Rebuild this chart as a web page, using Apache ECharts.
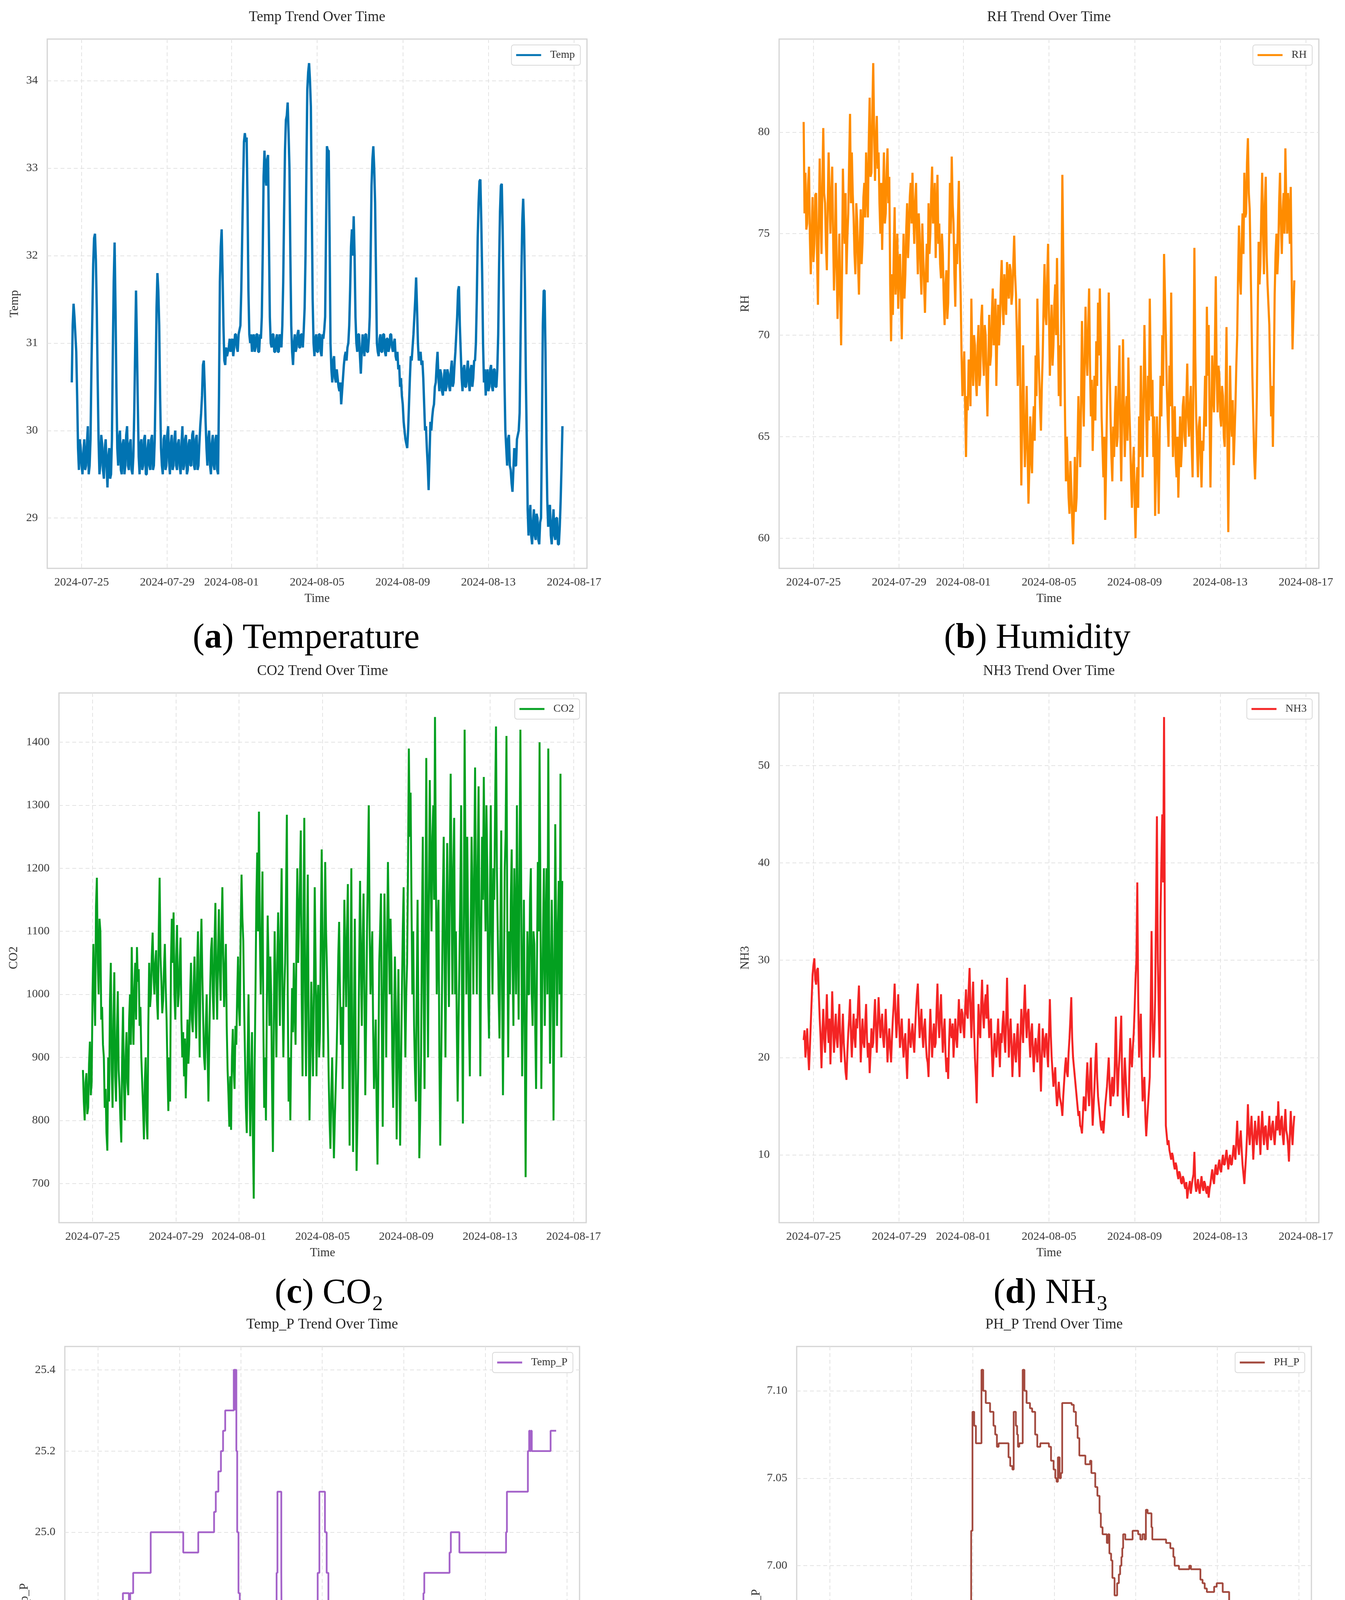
<!DOCTYPE html>
<html><head><meta charset="utf-8">
<script src="https://cdn.jsdelivr.net/npm/echarts@6/dist/echarts.min.js"></script>
<style>html,body{margin:0;padding:0;background:#fff}#c{width:3444px;height:5015px}</style>
</head><body><div id="c"></div>
<script>
// ---------- DATA ----------
const xTickLabels = ['2024-07-25','2024-07-29','2024-08-01','2024-08-05','2024-08-09','2024-08-13','2024-08-17'];
const sampleStart = '2024-07-24T13:00:00';
const sampleStepHours = 1;

const tempValues = [
30.55,31.2,31.45,31.3,31.1,30.9,30.4,29.8,29.55,29.9,29.8,29.6,29.5,29.75,29.9,29.55,29.6,29.85,30.05,29.5,29.6,29.9,30.7,31.3,
31.9,32.2,32.25,31.95,31.4,30.6,29.9,29.5,29.6,29.95,29.85,29.55,29.45,29.8,29.9,29.6,29.35,29.7,29.8,29.45,29.5,29.9,30.9,31.7,
32.15,31.4,30.5,29.8,29.6,29.9,30.0,29.55,29.5,29.85,29.9,29.5,29.6,29.95,30.05,29.6,29.55,29.85,29.9,29.55,29.5,29.7,30.2,30.9,
31.6,31.0,30.3,29.7,29.5,29.85,29.9,29.55,29.6,29.9,29.95,29.5,29.5,29.8,29.9,29.6,29.55,29.9,29.95,29.55,29.6,29.9,30.6,31.4,
31.8,31.6,31.2,30.4,29.8,29.6,29.5,29.9,29.95,29.55,29.6,29.95,30.05,29.65,29.5,29.85,29.95,29.55,29.6,29.9,30.0,29.6,29.55,29.85,
29.9,29.6,29.5,29.85,30.05,29.55,29.6,29.9,29.95,29.5,29.55,29.85,29.9,29.6,29.6,29.95,30.0,29.6,29.55,29.9,29.95,29.55,29.6,29.85,
30.05,30.2,30.4,30.75,30.8,30.5,30.1,29.8,29.6,29.9,30.0,29.6,29.5,29.85,29.95,29.6,29.55,29.9,29.95,29.55,29.5,30.4,31.7,32.1,
32.3,31.8,31.2,30.8,30.75,30.95,30.85,30.9,30.95,31.05,30.9,31.0,31.05,30.85,30.95,31.1,31.1,30.95,30.9,31.1,31.15,31.2,31.6,32.2,
32.8,33.3,33.4,33.3,33.35,32.6,31.6,31.1,31.0,31.1,30.9,31.05,31.1,30.9,30.95,31.1,31.1,30.9,30.9,31.1,31.05,31.3,32.0,32.9,
33.2,32.9,32.8,33.1,33.15,32.2,31.3,31.0,30.95,31.1,31.1,30.9,30.9,31.05,31.1,30.9,30.9,31.1,31.05,30.95,31.2,31.7,32.5,33.2,
33.55,33.6,33.75,33.4,33.0,32.0,31.2,30.9,30.75,31.0,31.1,30.9,30.95,31.1,31.15,30.95,30.95,31.1,31.1,30.95,31.15,31.4,32.0,33.0,
33.9,34.1,34.2,34.0,33.7,32.6,31.5,31.0,30.85,31.05,31.1,30.9,30.9,31.1,31.1,30.9,30.85,31.1,31.05,31.15,31.3,32.3,33.25,33.2,
33.2,32.2,31.0,30.7,30.55,30.8,30.85,30.6,30.55,30.7,30.6,30.5,30.45,30.55,30.3,30.45,30.6,30.75,30.85,30.9,30.8,30.95,31.0,31.2,
31.6,32.1,32.3,32.0,32.45,32.0,31.3,31.0,30.9,31.1,31.1,30.85,30.65,30.9,31.1,30.95,30.85,31.1,31.1,30.9,30.9,31.05,31.3,32.0,
32.8,33.1,33.25,33.0,32.6,31.8,31.0,30.9,30.85,31.05,31.1,30.9,30.9,31.1,31.1,30.9,30.85,31.05,31.05,30.9,30.95,31.1,31.1,30.95,
30.9,31.0,31.05,30.85,30.8,30.9,30.7,30.75,30.5,30.6,30.4,30.3,30.1,30.0,29.9,29.85,29.8,30.0,30.3,30.6,30.85,30.8,30.95,31.1,
31.3,31.5,31.75,31.4,31.0,30.8,30.85,30.9,30.75,30.8,30.6,30.3,30.0,30.05,29.8,29.6,29.32,29.7,30.1,30.0,30.15,30.25,30.3,30.5,
30.55,30.75,30.9,30.6,30.45,30.7,30.65,30.45,30.4,30.6,30.7,30.45,30.5,30.7,30.65,30.5,30.45,30.7,30.8,30.5,30.55,30.75,30.9,31.1,
31.3,31.6,31.65,31.2,30.9,30.6,30.45,30.7,30.75,30.5,30.5,30.7,30.8,30.55,30.45,30.7,30.75,30.5,30.6,30.8,30.8,31.0,31.5,32.2,
32.6,32.85,32.87,32.4,31.8,31.0,30.55,30.7,30.4,30.6,30.7,30.45,30.5,30.7,30.75,30.5,30.45,30.7,30.7,30.5,30.5,30.7,31.1,31.9,
32.5,32.8,32.82,32.3,31.5,30.6,30.0,29.8,29.6,29.9,29.95,29.6,29.55,29.4,29.3,29.55,29.8,29.6,29.6,29.9,29.95,30.0,30.2,31.0,
31.8,32.4,32.65,32.3,31.6,30.6,29.9,29.1,28.8,29.0,29.15,28.8,28.7,28.95,29.1,28.8,28.75,29.05,29.0,28.75,28.7,28.95,29.0,30.0,
31.2,31.6,31.6,30.9,29.85,29.2,28.9,29.1,29.15,28.8,28.7,28.95,29.1,28.8,28.75,29.0,29.0,28.7,28.7,28.9,29.2,29.6,30.05];

const rhValues = [
80.5,76.0,78.0,75.2,75.5,77.4,78.3,74.8,73.0,75.0,76.8,73.6,74.5,76.9,77.0,74.0,71.5,75.5,78.7,76.0,74.0,77.5,80.2,77.0,
76.5,74.5,73.2,76.5,79.0,76.8,75.0,77.0,78.3,75.0,72.2,74.0,77.5,73.5,70.8,72.8,75.0,72.0,69.5,73.0,78.2,76.0,74.5,77.0,
73.0,74.8,76.0,78.5,80.9,76.5,79.0,77.0,75.8,74.0,73.0,76.5,75.6,73.5,72.0,74.8,76.2,73.5,74.6,76.8,77.5,75.8,79.0,77.2,
75.8,79.5,81.7,77.8,78.0,81.0,83.4,80.0,77.6,79.5,80.8,78.2,79.0,76.5,75.0,77.5,74.2,76.8,79.0,75.5,76.0,78.0,79.2,76.5,
77.8,72.5,69.7,73.0,71.0,74.0,76.3,72.0,73.0,75.0,71.3,73.5,74.0,72.0,69.8,72.8,75.0,71.8,73.0,75.2,76.5,73.8,75.0,76.8,
77.5,75.5,78.0,76.0,74.5,76.5,77.5,74.8,73.0,76.0,75.0,73.2,72.0,75.5,74.0,72.5,71.1,73.0,74.5,72.6,76.5,74.0,75.0,77.0,
78.3,75.5,76.0,77.5,73.8,75.8,77.9,74.5,75.5,73.5,72.8,75.0,74.0,71.8,70.5,72.5,73.2,70.8,71.6,74.5,77.5,75.0,78.8,76.5,
75.5,73.0,71.4,74.5,73.5,75.8,77.6,74.0,72.0,69.0,67.0,68.0,69.2,66.5,64.0,67.0,66.3,68.8,68.5,66.5,71.8,69.0,67.5,70.0,
69.5,67.8,67.0,69.5,70.5,67.5,68.0,70.8,71.5,69.0,68.0,70.5,70.0,67.8,66.0,68.5,71.0,68.5,69.0,71.0,72.3,69.5,70.0,71.8,
67.5,70.0,71.5,69.5,70.5,72.5,73.7,71.5,70.5,73.0,72.0,71.0,73.6,72.5,71.8,73.5,73.2,71.5,72.0,73.5,74.9,73.0,72.0,70.0,
67.5,69.5,71.8,66.5,62.6,65.8,69.5,66.0,63.5,65.0,67.5,64.5,61.7,63.5,66.0,64.0,63.2,65.5,66.5,64.8,69.0,67.0,71.8,69.5,
68.0,66.5,65.3,67.5,69.0,71.5,73.5,71.0,70.5,72.8,74.5,71.0,68.0,70.0,71.5,68.5,69.5,71.5,72.5,70.0,73.8,70.5,67.0,69.5,
66.5,72.0,77.9,74.0,70.0,66.0,62.8,65.0,63.5,62.0,61.2,63.8,62.5,61.0,59.7,61.5,64.0,61.3,62.0,64.5,67.0,65.0,63.5,66.8,
70.7,67.5,65.5,68.8,71.4,69.0,68.0,70.5,72.3,68.5,66.0,67.8,64.3,66.5,68.0,65.8,69.7,67.5,71.6,69.0,72.3,69.5,66.0,64.5,
63.0,65.0,60.9,63.5,66.5,69.0,72.1,68.5,66.0,64.0,62.8,65.5,64.0,66.2,67.5,64.5,65.0,67.5,69.5,65.5,62.8,66.0,69.8,66.5,
64.0,66.0,67.0,64.8,68.9,66.5,65.0,63.0,61.5,63.5,64.5,62.0,60.0,62.5,63.5,61.5,66.0,64.0,68.5,66.0,63.0,66.5,70.5,68.0,
66.0,64.0,68.0,65.8,71.8,68.5,66.0,67.8,64.0,66.0,61.1,63.5,66.0,64.0,61.2,64.8,68.0,66.0,70.0,67.5,74.0,72.0,70.0,67.5,
66.0,64.5,68.5,66.5,72.1,67.0,64.0,65.8,66.5,64.0,63.0,65.0,62.0,64.0,66.0,63.5,64.5,66.5,67.0,65.0,64.5,66.8,68.6,66.0,
65.0,66.5,67.5,64.5,63.0,68.0,74.3,69.0,66.0,64.5,63.0,65.5,66.0,64.0,62.5,64.8,64.3,66.0,68.0,65.5,71.4,68.0,70.5,66.0,
62.5,66.0,69.0,67.0,66.2,69.5,72.9,68.0,66.2,68.5,68.0,66.0,65.5,67.5,67.0,65.0,64.5,67.0,70.4,65.0,60.3,64.5,68.5,66.0,
65.0,66.8,63.6,65.0,66.5,68.5,70.0,73.0,75.4,73.0,72.0,74.5,76.0,74.0,78.0,75.8,76.0,78.5,79.7,77.0,76.2,73.5,71.0,68.0,
66.0,64.0,62.9,64.5,67.0,71.0,74.6,72.5,73.5,76.0,78.0,75.0,73.0,76.5,77.8,74.0,72.5,71.5,70.5,68.0,66.0,67.5,64.5,68.0,
72.0,74.0,75.0,73.0,74.0,76.5,78.0,75.5,74.0,76.0,77.0,75.0,79.2,76.5,75.0,77.0,76.0,74.5,77.3,73.0,69.3,71.0,72.7];

const co2Values = [
880,830,800,860,875,810,820,890,925,840,860,1000,1080,1000,950,1140,1185,1050,1000,1120,1100,960,980,920,
900,820,850,780,752,900,830,990,1050,880,820,960,1035,870,830,940,1005,880,850,800,765,900,980,860,
800,900,940,860,840,960,1000,920,1075,980,920,1010,1050,960,1075,1020,1040,950,980,900,860,820,770,860,
900,800,770,950,1050,980,1000,1060,1098,1030,1000,1050,1070,990,960,1100,1185,1060,1020,970,990,1040,1080,1010,
960,880,815,900,830,1050,1120,1050,1130,1000,960,1060,1110,980,1000,1050,1090,960,900,940,870,930,835,900,
960,890,920,1000,1050,960,940,1010,1060,980,930,1040,1100,990,900,1060,1120,1030,960,900,880,950,1000,910,
830,930,1010,1070,1090,1000,960,1080,1145,1030,960,1060,1135,1040,990,1100,1170,1060,980,1030,1080,950,880,840,
790,870,785,900,945,880,850,950,920,1000,1060,980,950,1100,1190,1120,1085,980,900,820,780,900,1000,880,
775,860,940,780,676,880,1005,1150,1225,1100,1290,1100,1000,1080,1195,960,820,900,800,980,1125,1050,950,1060,
1000,850,750,950,1100,1000,900,1050,1130,1050,950,1100,1200,1000,900,1000,1050,1150,1285,1000,830,900,800,920,
1010,940,1050,980,920,1080,1200,1050,1110,1180,1260,1000,870,1100,1280,1000,870,1050,1190,950,800,900,1020,950,
870,1000,1170,1050,870,980,1015,900,940,1100,1230,1080,900,1050,1210,1100,1040,960,870,800,755,840,900,820,
740,800,850,900,970,1060,1115,1000,920,980,850,1000,1150,1060,980,1100,1175,950,760,1000,1200,900,750,950,
1120,900,720,800,900,1050,1180,1050,950,1080,1160,1000,840,960,1100,1200,1300,1100,1000,1050,1100,950,850,900,
960,820,730,880,1050,1100,1160,950,790,1000,1160,1050,900,1080,1210,1100,1000,1120,1050,900,820,950,1060,980,
770,900,1040,900,760,880,1000,1100,1170,1000,900,1000,1050,1200,1390,1250,1320,1150,1000,1100,950,880,830,1000,
1150,950,740,800,900,1100,1250,1000,850,1100,1375,1100,900,1150,1340,1200,1100,1250,1300,1150,1440,1200,1000,1100,
1150,900,760,880,1000,1150,1250,1050,900,1100,1240,1100,980,1200,1350,1150,1000,1200,1280,1000,1100,950,830,950,
1050,1150,1300,1000,795,1100,1420,1200,1000,1250,1100,950,870,1100,1250,1150,1000,1200,1360,1150,1000,1200,1330,1100,
870,1100,1250,1150,1345,1200,1100,1300,1200,1000,930,1150,1300,1100,1000,1200,1150,1300,1425,1200,1100,1000,930,1100,
1260,1000,840,1000,1200,1250,1410,1100,900,1100,1000,1150,1230,1050,950,1200,1100,1000,1300,1100,960,1200,1420,1150,
870,1000,1150,950,710,950,1100,1000,1000,1150,1200,1000,950,1100,1080,950,850,1050,1210,1100,1400,1150,850,1000,
1100,1200,950,1100,1200,1000,1390,1100,890,1000,1150,1050,800,1000,1270,1100,950,1100,1180,1000,1350,900,1180];

const nh3Values = [
21.8,22.8,20.0,21.5,23.0,20.5,18.7,21.0,23.5,26.0,28.5,29.5,30.2,28.0,27.5,29.0,29.2,26.5,24.0,22.0,18.9,22.5,25.0,22.0,
20.5,23.5,26.5,23.0,21.5,24.0,19.3,22.5,26.8,23.5,20.5,22.5,24.5,22.0,21.0,23.5,25.5,22.0,19.5,22.0,24.5,21.5,20.0,18.5,
17.7,20.5,22.5,24.0,26.0,22.5,20.0,22.5,24.5,22.0,21.0,24.0,23.0,25.5,27.4,23.5,19.5,22.0,24.0,21.5,21.0,23.5,25.5,22.0,
20.0,21.5,18.4,20.5,23.0,21.0,21.5,24.0,26.0,23.0,20.5,23.5,26.2,24.0,22.0,23.5,24.5,22.0,21.0,23.0,25.0,22.5,19.5,21.5,
23.0,21.0,19.5,22.0,24.0,25.5,27.6,24.5,22.0,24.0,26.5,23.5,21.0,22.5,24.0,21.5,20.0,21.8,22.5,20.0,17.8,21.0,24.0,22.0,
21.0,22.5,23.5,21.5,20.5,23.0,25.0,26.5,27.6,24.5,22.0,23.5,25.0,22.5,21.0,23.0,24.0,21.5,20.0,19.5,18.0,22.0,25.0,22.5,
20.0,22.0,23.5,21.0,21.5,25.0,27.6,24.0,22.0,24.5,26.5,23.0,20.5,22.5,24.0,20.5,18.5,20.0,17.8,21.5,24.0,22.5,22.0,23.5,
20.0,22.0,24.0,22.0,21.0,23.5,26.0,23.5,22.5,25.0,24.5,23.0,22.0,25.0,27.0,24.5,24.0,27.0,29.2,25.0,22.0,25.5,27.8,23.0,
20.0,18.0,15.3,21.0,25.5,23.0,22.0,25.5,28.0,24.5,23.0,25.5,26.5,24.0,27.5,24.5,22.0,23.5,24.0,20.5,18.0,20.5,22.5,21.0,
20.0,22.0,24.0,21.0,19.0,22.5,21.5,23.5,24.8,22.0,20.5,24.0,28.2,23.5,20.0,22.0,24.0,21.5,18.0,20.5,22.5,20.5,19.5,22.0,
23.5,20.5,18.0,22.0,25.0,23.0,21.5,25.0,27.5,24.0,22.0,24.5,25.0,22.0,20.0,22.5,23.5,20.5,18.5,21.0,22.0,20.5,19.5,22.0,
23.5,19.5,16.5,20.0,23.0,21.5,20.0,22.0,22.5,20.5,19.0,22.5,26.0,22.5,20.0,18.5,17.0,18.0,19.0,16.5,15.0,16.0,17.5,16.0,
15.5,15.0,14.0,16.0,17.5,19.0,20.0,18.5,18.0,20.5,22.0,24.0,26.2,22.0,20.0,19.0,18.0,17.0,16.0,15.0,14.0,14.5,13.0,12.8,
12.2,14.0,16.0,15.0,14.5,17.5,19.5,16.5,15.0,18.0,20.0,16.0,13.0,15.0,17.0,19.5,21.5,18.0,16.0,15.0,14.0,13.0,12.5,13.5,
12.2,13.5,15.0,16.0,17.0,18.5,20.0,17.0,15.0,17.0,18.0,16.0,16.5,20.0,24.2,19.0,16.0,18.5,20.0,22.0,24.3,18.0,14.0,17.0,
20.0,18.0,16.0,15.0,13.8,18.0,22.0,20.0,19.0,21.0,22.5,25.0,28.0,30.0,38.0,26.0,20.0,22.5,24.5,19.0,15.5,17.0,18.0,14.0,
11.9,13.5,15.0,16.5,18.0,25.0,33.0,24.0,20.0,22.0,26.0,35.0,44.8,30.0,25.0,20.0,34.5,40.0,45.0,38.0,55.0,30.0,13.0,12.0,
11.0,11.5,10.5,10.0,9.5,10.2,9.8,9.0,8.5,9.2,8.8,8.0,7.5,8.3,8.0,7.2,7.0,7.8,7.5,6.8,6.5,7.2,5.5,6.3,
6.8,7.3,6.0,6.8,7.5,8.0,10.3,7.0,6.2,6.8,7.5,6.5,6.0,7.0,7.8,6.8,6.3,7.3,7.0,6.3,6.0,6.8,5.6,6.5,
7.0,7.8,8.5,7.5,7.0,8.3,9.0,8.0,8.0,9.0,9.5,8.5,8.2,9.3,10.0,9.0,9.0,9.8,10.5,9.5,8.5,9.5,10.0,9.0,
9.0,10.0,11.0,10.0,9.5,11.5,13.5,11.0,10.0,11.5,12.5,10.5,9.0,8.0,7.0,8.5,10.0,12.0,15.2,12.5,11.0,12.5,14.0,12.0,
9.5,11.5,13.5,12.0,11.0,12.5,14.0,12.0,10.0,12.5,14.5,12.5,11.0,12.8,13.0,11.5,10.5,12.5,14.0,12.0,11.5,13.0,13.5,12.0,
11.0,12.5,14.0,12.5,15.5,13.0,12.0,13.5,14.0,12.0,11.0,13.0,14.7,12.5,12.0,11.0,9.3,12.0,14.5,12.5,11.0,12.8,14.0];

const tempPTimes = ['07-24 12:25','07-24 14:55','07-24 16:26','07-25 00:00','07-25 07:34','07-25 14:37','07-25 16:08','07-25 18:09','07-25 19:09','07-26 00:12','07-26 05:14','07-26 12:19','07-26 13:50','07-26 17:21','07-27 14:00','07-29 04:20','07-29 22:00','07-30 16:38','07-30 18:39','07-30 21:40','07-31 00:42','07-31 03:13','07-31 05:44','07-31 15:50','07-31 17:21','07-31 17:51','07-31 18:52','07-31 19:52','07-31 21:23','07-31 22:54','08-01 00:24','08-01 04:26','08-01 05:27','08-01 16:02','08-01 17:33','08-01 22:35','08-02 03:07','08-02 05:08','08-02 17:14','08-02 18:15','08-02 19:16','08-02 23:48','08-03 00:19','08-03 04:21','08-03 05:21','08-03 15:56','08-03 17:57','08-03 23:30','08-04 04:32','08-04 05:33','08-04 17:08','08-04 18:39','08-04 20:40','08-05 03:13','08-05 05:14','08-05 07:16','08-05 09:17','08-05 10:48','08-05 17:51','08-06 17:02','08-06 23:05','08-07 00:36','08-07 04:38','08-07 17:14','08-08 04:21','08-08 07:52','08-08 09:23','08-09 02:31','08-09 04:02','08-09 11:35','08-09 14:37','08-09 19:09','08-09 23:11','08-10 00:12','08-11 05:57','08-11 07:28','08-11 17:33','08-14 00:30','08-14 01:31','08-15 02:12','08-15 03:43','08-15 04:44','08-15 05:44','08-15 06:46','08-16 04:57','08-16 11:30'];
const tempPValues = [24.25,24.30,24.40,24.45,24.50,24.55,24.60,24.65,24.70,24.75,24.85,24.80,24.85,24.90,25.00,24.95,25.00,25.05,25.10,25.15,25.20,25.25,25.30,25.40,25.30,25.40,25.20,25.00,24.85,24.75,24.70,24.60,24.55,24.60,24.65,24.70,24.60,24.55,24.75,24.90,25.10,24.90,24.70,24.60,24.55,24.60,24.65,24.70,24.60,24.55,24.75,24.90,25.10,25.00,24.90,24.75,24.65,24.60,24.50,24.55,24.60,24.65,24.70,24.75,24.70,24.65,24.55,24.60,24.65,24.70,24.75,24.80,24.85,24.90,24.95,25.00,24.95,25.00,25.10,25.20,25.25,25.20,25.25,25.20,25.25,25.25];

const phPTimes = ['07-24 12:22','07-24 21:28','07-24 23:30','07-25 04:03','07-25 08:05','07-25 18:12','07-26 02:47','07-26 03:48','07-26 12:54','07-26 14:25','07-26 17:57','07-26 23:00','07-27 01:32','07-27 04:04','07-27 08:06','07-27 12:40','07-27 14:10','07-27 15:11','07-27 19:14','07-28 03:19','07-28 05:20','07-28 08:22','07-28 12:25','07-28 17:59','07-28 23:02','07-29 00:02','07-29 01:34','07-29 04:05','07-29 05:36','07-29 09:08','07-29 11:40','07-29 21:47','07-29 22:47','07-30 10:55','07-30 11:56','07-30 13:57','07-30 15:28','07-30 18:00','07-30 20:31','07-30 22:02','07-31 00:04','07-31 01:35','07-31 03:05','07-31 04:06','07-31 05:37','07-31 07:08','07-31 09:09','07-31 11:10','07-31 13:11','07-31 14:43','07-31 16:44','07-31 18:15','07-31 19:16','07-31 20:47','07-31 22:17','07-31 23:49','08-01 01:49','08-01 03:51','08-01 10:25','08-01 12:26','08-01 15:28','08-01 20:32','08-02 00:34','08-02 02:36','08-02 04:36','08-02 06:38','08-02 18:17','08-02 20:18','08-02 22:50','08-03 00:21','08-03 02:53','08-03 04:24','08-03 05:24','08-03 06:56','08-03 10:58','08-03 13:00','08-03 15:31','08-03 19:33','08-03 22:05','08-04 01:37','08-04 04:08','08-04 07:41','08-04 17:48','08-04 20:19','08-04 23:21','08-05 01:23','08-05 02:54','08-05 04:25','08-05 06:26','08-05 07:57','08-05 09:28','08-05 20:35','08-05 23:06','08-06 01:38','08-06 03:39','08-06 05:40','08-06 12:46','08-06 18:20','08-06 19:51','08-07 00:24','08-07 02:55','08-07 05:27','08-07 06:58','08-07 09:00','08-07 14:03','08-07 15:33','08-07 17:04','08-07 19:05','08-07 20:36','08-07 23:08','08-08 02:10','08-08 04:11','08-08 05:42','08-08 07:13','08-08 08:14','08-08 09:15','08-08 11:46','08-08 20:22','08-09 02:56','08-09 05:28','08-09 08:00','08-09 10:31','08-09 12:02','08-09 14:03','08-09 18:36','08-09 19:37','08-10 11:48','08-10 16:51','08-10 20:23','08-10 21:54','08-11 02:57','08-11 15:05','08-11 17:06','08-12 04:14','08-12 06:46','08-12 09:17','08-12 11:49','08-12 20:24','08-12 23:26','08-13 06:30','08-13 14:05','08-13 15:36','08-13 16:37','08-13 17:07','08-13 18:08','08-14 01:43','08-14 03:14','08-14 05:15','08-14 09:18','08-14 10:49','08-14 11:50','08-14 12:51','08-14 14:22','08-14 18:55','08-14 19:56','08-15 01:00','08-15 03:01','08-15 09:35','08-15 15:08','08-15 18:10','08-15 19:41','08-15 20:42','08-15 21:43','08-15 22:44','08-16 00:15','08-16 01:16','08-16 02:17','08-16 03:48','08-16 04:49','08-16 06:20','08-16 07:21','08-16 08:22','08-16 09:53','08-16 11:24'];
const phPValues = [6.930,6.940,6.935,6.930,6.925,6.920,6.930,6.920,6.935,6.930,6.925,6.930,6.935,6.945,6.955,6.950,6.945,6.950,6.955,6.960,6.965,6.970,6.960,6.955,6.950,6.955,6.945,6.950,6.940,6.935,6.930,6.935,6.930,6.920,6.915,6.920,6.915,6.905,6.915,6.900,6.895,6.890,6.885,6.880,6.875,6.870,6.875,6.870,6.875,6.870,6.885,6.870,6.900,6.950,7.020,7.088,7.080,7.070,7.112,7.100,7.093,7.088,7.080,7.075,7.068,7.070,7.062,7.057,7.055,7.088,7.080,7.075,7.068,7.070,7.112,7.100,7.093,7.090,7.088,7.075,7.068,7.070,7.068,7.060,7.055,7.050,7.048,7.062,7.050,7.053,7.093,7.092,7.088,7.080,7.073,7.063,7.058,7.060,7.053,7.045,7.040,7.030,7.022,7.018,7.013,7.018,7.007,7.003,6.993,6.983,6.990,6.995,7.000,7.005,7.010,7.018,7.015,7.020,7.018,7.015,7.018,7.015,7.032,7.030,7.022,7.015,7.013,7.010,7.005,7.000,6.998,7.000,6.998,6.992,6.990,6.987,6.985,6.988,6.990,6.985,6.975,6.965,6.955,6.920,6.957,6.935,6.920,6.910,6.908,6.910,6.905,6.900,6.890,6.905,6.897,6.892,6.888,6.895,6.892,6.905,6.910,6.928,6.910,6.920,6.900,6.890,6.865,6.860,6.855,6.860,6.900,6.855,6.850,6.845];

const tempTicks = [29,30,31,32,33,34];
const rhTicks = [60,65,70,75,80];
const co2Ticks = [700,800,900,1000,1100,1200,1300,1400];
const nh3Ticks = [10,20,30,40,50];
const tempPTicks = [24.2,24.4,24.6,24.8,25.0,25.2,25.4];
const phPTicks = [6.85,6.90,6.95,7.00,7.05,7.10];

// ---------- HELPERS ----------
const FONT = "'Liberation Serif','Times New Roman',serif";
const CW = 3444;
const base = Date.parse('2024-07-25T00:00:00');
const toDay = s => (Date.parse(s) - base) / 864e5;
const xTickDays = xTickLabels.map(s => toDay(s + 'T00:00:00'));
const uniformTimes = n => { const t0 = toDay(sampleStart); return Array.from({length: n}, (_, i) => t0 + i * sampleStepHours / 24); };
const eventTimes = arr => arr.map(s => toDay('2024-' + s.replace(' ', 'T') + ':00'));
const padded = arr => { const mn = Math.min(...arr), mx = Math.max(...arr), p = (mx - mn) * 0.05; return [mn - p, mx + p]; };

const panels = [
  {name:'Temp', title:'Temp Trend Over Time', x:uniformTimes(tempValues.length), y:tempValues, ticks:tempTicks, dec:0, color:'#0173b2', lw:6, grid:[121,100,1382,1355], yGap:68, cap:'({b|a}) Temperature', capXY:[784,1635]},
  {name:'RH', title:'RH Trend Over Time', x:uniformTimes(rhValues.length), y:rhValues, ticks:rhTicks, dec:0, color:'#ff8c00', lw:5.5, grid:[1995,100,1382,1355], yGap:71, cap:'({b|b}) Humidity', capXY:[2656,1635]},
  {name:'CO2', title:'CO2 Trend Over Time', x:uniformTimes(co2Values.length), y:co2Values, ticks:co2Ticks, dec:0, color:'#03a020', lw:5, grid:[151,1774,1350,1356], yGap:100, cap:'({b|c}) CO₂', capXY:[843,3312]},
  {name:'NH3', title:'NH3 Trend Over Time', x:uniformTimes(nh3Values.length), y:nh3Values, ticks:nh3Ticks, dec:0, color:'#f42424', lw:5, grid:[1995,1774,1382,1356], yGap:71, cap:'({b|d}) NH₃', capXY:[2691,3312]},
  {name:'Temp_P', title:'Temp_P Trend Over Time', x:eventTimes(tempPTimes), y:tempPValues, ticks:tempPTicks, dec:1, color:'#a462c9', lw:4.5, step:'end', grid:[166,3447,1318,1315], yGap:88, cap:'({b|e}) Temperature in Excreta', capXY:[783,4942]},
  {name:'PH_P', title:'PH_P Trend Over Time', x:eventTimes(phPTimes), y:phPValues, ticks:phPTicks, dec:2, color:'#a34a3f', lw:4.5, step:'end', grid:[2040,3447,1318,1315], yGap:88, cap:'({b|f}) pH in Excreta', capXY:[2657,4942]}
];

const grids = [], xAxes = [], yAxes = [], series = [], titles = [], legends = [], graphics = [];
const gridLine = {show:true, lineStyle:{color:'#e3e3e3', width:2, type:[10,7]}};
panels.forEach((p, k) => {
  const [gl, gt, gw, gh] = p.grid;
  grids.push({left:gl, top:gt, width:gw, height:gh, show:true, borderColor:'#d4d4d4', borderWidth:3, backgroundColor:'#fff', containLabel:false, outerBoundsMode:'none'});
  const [xmin, xmax] = padded(p.x);
  const [ymin, ymax] = padded(p.y);
  xAxes.push({
    type:'value', gridIndex:k, min:xmin, max:xmax, name:'Time', nameLocation:'middle', nameGap:62,
    nameTextStyle:{fontSize:31, color:'#333', fontFamily:FONT},
    axisLine:{show:false}, axisTick:{show:false, customValues:xTickDays},
    axisLabel:{customValues:xTickDays, margin:21, fontSize:30, color:'#3a3a3a', fontFamily:FONT,
      formatter: v => { const i = xTickDays.findIndex(d => Math.abs(d - v) < 1e-6); return i >= 0 ? xTickLabels[i] : ''; }},
    splitLine:gridLine
  });
  yAxes.push({
    type:'value', gridIndex:k, min:ymin, max:ymax, name:p.name, nameLocation:'middle', nameGap:p.yGap,
    nameTextStyle:{fontSize:31, color:'#333', fontFamily:FONT},
    axisLine:{show:false}, axisTick:{show:false, customValues:p.ticks},
    axisLabel:{customValues:p.ticks, margin:24, fontSize:30, color:'#3a3a3a', fontFamily:FONT, formatter: v => Number(v).toFixed(p.dec)},
    splitLine:gridLine
  });
  series.push({
    type:'line', name:p.name, xAxisIndex:k, yAxisIndex:k, symbol:'none', showSymbol:false, step:p.step || false,
    data:p.x.map((x, i) => [x, p.y[i]]), lineStyle:{color:p.color, width:p.lw}, itemStyle:{color:p.color},
    animation:false, emphasis:{disabled:true}, clip:true
  });
  titles.push({text:p.title, left:gl + gw / 2, top:gt - 74, textAlign:'center', padding:0,
    textStyle:{fontSize:37, fontWeight:'normal', color:'#262626', fontFamily:FONT}});
  legends.push({data:[p.name], right:CW - (gl + gw) + 17, top:gt + 15, orient:'horizontal', icon:'rect',
    itemWidth:64, itemHeight:5, selectedMode:false,
    textStyle:{fontSize:28, color:'#333', fontFamily:FONT, padding:[0,0,0,18]},
    backgroundColor:'#fff', borderColor:'#d9d9d9', borderWidth:2, borderRadius:6, padding:[12,14,12,12]});
  graphics.push({type:'text', x:p.capXY[0], y:p.capXY[1], silent:true,
    style:{text:p.cap, fontSize:90, fontFamily:FONT, fill:'#000', align:'center', verticalAlign:'middle',
      rich:{b:{fontSize:90, fontFamily:FONT, fontWeight:'bold', fill:'#000'}}}});
});

const chart = echarts.init(document.getElementById('c'), null, {renderer:'canvas'});
chart.setOption({
  animation:false, backgroundColor:'#fff', textStyle:{fontFamily:FONT},
  title:titles, legend:legends, grid:grids, xAxis:xAxes, yAxis:yAxes, series:series, graphic:graphics
});
</script></body></html>
